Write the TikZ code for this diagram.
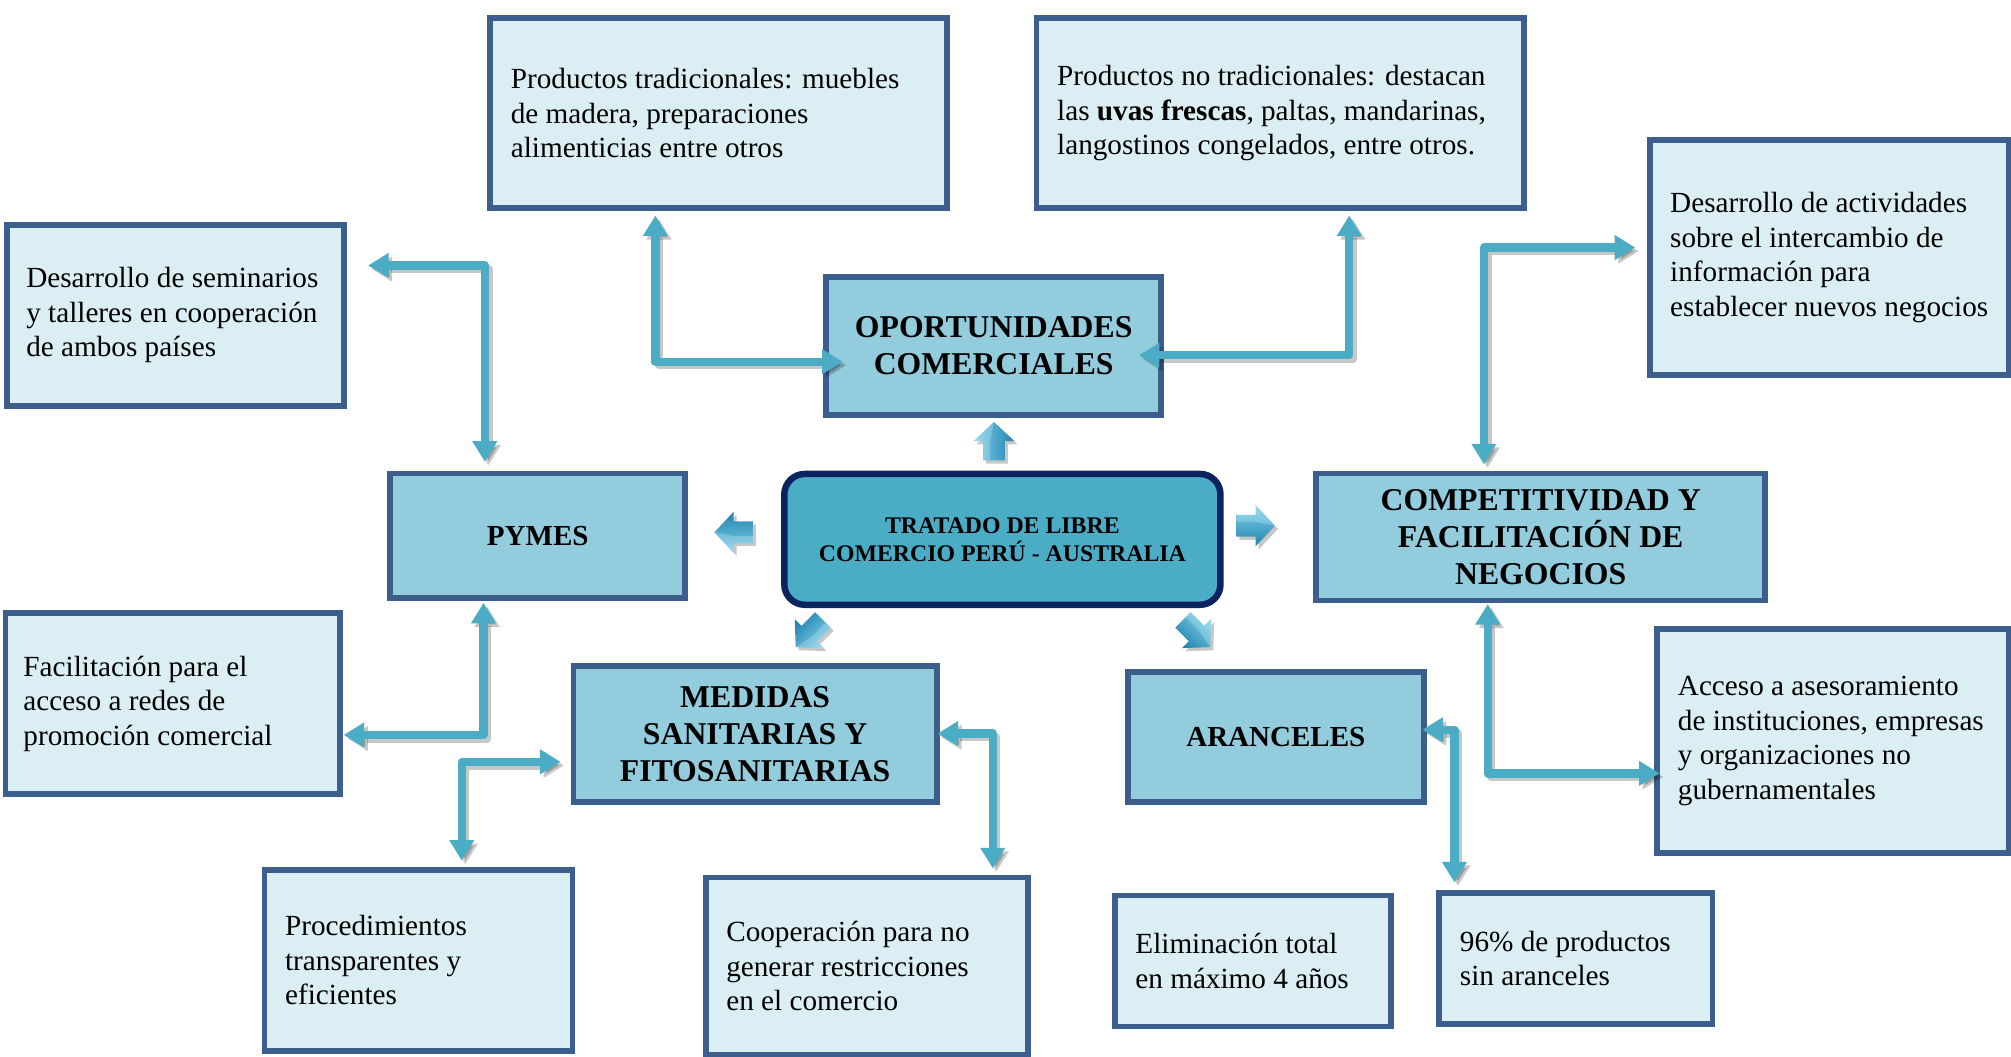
\documentclass[tikz,border=0pt]{standalone}
\usepackage{fontspec}
\setmainfont{Liberation Serif}
\usetikzlibrary{arrows.meta,calc}
\definecolor{bordc}{HTML}{3B5E8C}
\definecolor{lightc}{HTML}{DAEEF3}
\definecolor{midc}{HTML}{93CDDD}
\definecolor{centc}{HTML}{4BACC6}
\definecolor{centb}{HTML}{0B2460}
\definecolor{connc}{HTML}{4BACC6}
\definecolor{arrlight}{HTML}{7ED2EC}
\definecolor{arrdark}{HTML}{2383AE}
\newcommand\bodyfont{\fontsize{16.2}{19.2}\selectfont}
\newcommand\headfont{\fontsize{17.6}{20.6}\selectfont\bfseries}
\newcommand\smallhead{\fontsize{16.1}{19}\selectfont\bfseries}
\newcommand\centfont{\fontsize{13.2}{15.6}\selectfont\bfseries}
\tikzset{
  lbox/.style={draw=bordc, fill=lightc, line width=3.2pt, inner sep=0pt, anchor=north west},
  hbox/.style={draw=bordc, fill=midc, line width=3.2pt, inner sep=0pt, anchor=north west, align=center, font=\headfont},
  btext/.style={anchor=west, align=left, inner sep=0pt, font=\bodyfont},
  conn/.style={line width=4.6pt, draw=connc, line join=round,
    {Triangle[width=0.46cm,length=0.4cm]}-{Triangle[width=0.46cm,length=0.4cm]}},
  connshadow/.style={conn, draw=black, opacity=0.22, transform canvas={shift={(0.07cm,-0.07cm)}}}
}
\newcommand\link[1]{\draw[connshadow] #1; \draw[conn] #1;}
\newcommand\blockarrow[3]{%
  \begin{scope}[shift={#1}, rotate=#2]
    \fill[black, opacity=0.22, transform canvas={shift={(0.06cm,-0.06cm)}}]
      (0,-15) -- (16,0) -- (8.5,0) -- (8.5,15) -- (-8.5,15) -- (-8.5,0) -- (-16,0) -- cycle;
    \path[left color=arrlight, right color=arrdark, shading angle=#3]
      (0,-15) -- (16,0) -- (8.5,0) -- (8.5,15) -- (-8.5,15) -- (-8.5,0) -- (-16,0) -- cycle;
    \fill[white, opacity=0.2] (0,-15) -- (-16,0) -- (-8.5,0) -- (-8.5,15) -- (-3,15) -- (-3,0) -- cycle;
  \end{scope}}
\begin{document}
\begin{tikzpicture}[x=0.025cm,y=-0.025cm]
\useasboundingbox (0,0) rectangle (1568,824);
\clip (0,0) rectangle (1568,824);
\fill[white] (0,0) rectangle (1568,824);

% light boxes
\node[lbox, minimum width=8.9cm, minimum height=3.7cm] (tradic) at (380,12) {};
\node[btext] (tradict) at ([xshift=0.45cm]tradic.west) {Productos tradicionales: muebles\\de madera, preparaciones\\alimenticias entre otros};

\node[lbox, minimum width=9.5cm, minimum height=3.7cm] (notradic) at (806,12) {};
\node[btext] (notradict) at ([xshift=0.45cm]notradic.west) {Productos no tradicionales: destacan\\las \textbf{uvas frescas}, paltas, mandarinas,\\langostinos congelados, entre otros.};

\node[lbox, minimum width=7.0cm, minimum height=4.575cm] (activ) at (1284,107) {};
\node[btext] (activt) at ([xshift=0.45cm]activ.west) {Desarrollo de actividades\\sobre el intercambio de\\información para\\establecer nuevos negocios};

\node[lbox, minimum width=6.575cm, minimum height=3.525cm] (seminar) at (3,173) {};
\node[btext] (seminart) at ([xshift=0.43cm]seminar.west) {Desarrollo de seminarios\\y talleres en cooperación\\de ambos países};

\node[lbox, minimum width=6.525cm, minimum height=3.525cm] (facil) at (2,476) {};
\node[btext] (facilt) at ([xshift=0.4cm]facil.west) {Facilitación para el\\acceso a redes de\\promoción comercial};

\node[lbox, minimum width=6.85cm, minimum height=4.375cm] (acceso) at (1290,488) {};
\node[btext] (accesot) at ([xshift=0.45cm]acceso.west) {Acceso a asesoramiento\\de instituciones, empresas\\y organizaciones no\\gubernamentales};

\node[lbox, minimum width=6.0cm, minimum height=3.525cm] (proced) at (204,676) {};
\node[btext] (procedt) at ([xshift=0.45cm]proced.west) {Procedimientos\\transparentes y\\eficientes};

\node[lbox, minimum width=6.275cm, minimum height=3.45cm] (cooper) at (548,682) {};
\node[btext] (coopert) at ([xshift=0.45cm]cooper.west) {Cooperación para no\\generar restricciones\\en el comercio};

\node[lbox, minimum width=5.375cm, minimum height=2.55cm] (elim) at (867,696) {};
\node[btext] (elimt) at ([xshift=0.45cm]elim.west) {Eliminación total\\en máximo 4 años};

\node[lbox, minimum width=5.325cm, minimum height=2.55cm] (noventa) at (1120,694) {};
\node[btext] (noventat) at ([xshift=0.45cm]noventa.west) {96\% de productos\\sin aranceles};

% header boxes
\node[hbox, minimum width=6.525cm, minimum height=2.675cm] (oport) at (642,214) {OPORTUNIDADES\\COMERCIALES};
\node[hbox, minimum width=5.75cm, minimum height=2.425cm, font=\smallhead] (pymes) at (302,367) {PYMES};
\node[hbox, minimum width=8.75cm, minimum height=2.475cm] (compet) at (1024,367) {COMPETITIVIDAD Y\\FACILITACIÓN DE\\NEGOCIOS};
\node[hbox, minimum width=7.075cm, minimum height=2.65cm] (medidas) at (445,517) {MEDIDAS\\SANITARIAS Y\\FITOSANITARIAS};
\node[hbox, minimum width=5.775cm, minimum height=2.525cm, font=\smallhead] (aranc) at (877,522) {ARANCELES};

% center
\node[draw=centb, fill=centc, line width=3.6pt, rounded corners=0.4cm, inner sep=0pt,
      minimum width=8.5cm, minimum height=2.55cm, anchor=north west, align=center, font=\centfont]
      (tlc) at (609,367) {TRATADO DE LIBRE\\COMERCIO PERÚ - AUSTRALIA};

% block arrows around the center
\blockarrow{(775,344)}{0}{90}
\blockarrow{(572,415)}{90}{180}
\blockarrow{(979,410)}{-90}{0}
\blockarrow{(631,494)}{135}{225}
\blockarrow{(933,494)}{-135}{-45}

% connector end points
\coordinate (c1a) at (511,168); \coordinate (c1b) at (657,282);
\coordinate (c2a) at (1052,168); \coordinate (c2b) at (888,277);
\coordinate (c3a) at (287,207); \coordinate (c3b) at (378,360);
\coordinate (c4a) at (1157,362); \coordinate (c4b) at (1275,193);
\coordinate (c5a) at (377,470); \coordinate (c5b) at (268,573);
\coordinate (c6a) at (437,594); \coordinate (c6b) at (360,671);
\coordinate (c7a) at (731,572); \coordinate (c7b) at (774,677);
\coordinate (c8a) at (1160,471); \coordinate (c8b) at (1294,603);
\coordinate (c9a) at (1109,569); \coordinate (c9b) at (1134,688);

\link{(c1a) |- (c1b)}
\link{(c2a) |- (c2b)}
\link{(c3a) -| (c3b)}
\link{(c4a) |- (c4b)}
\link{(c5a) |- (c5b)}
\link{(c6a) -| (c6b)}
\link{(c7a) -| (c7b)}
\link{(c8a) |- (c8b)}
\link{(c9a) -| (c9b)}
\end{tikzpicture}
\end{document}
